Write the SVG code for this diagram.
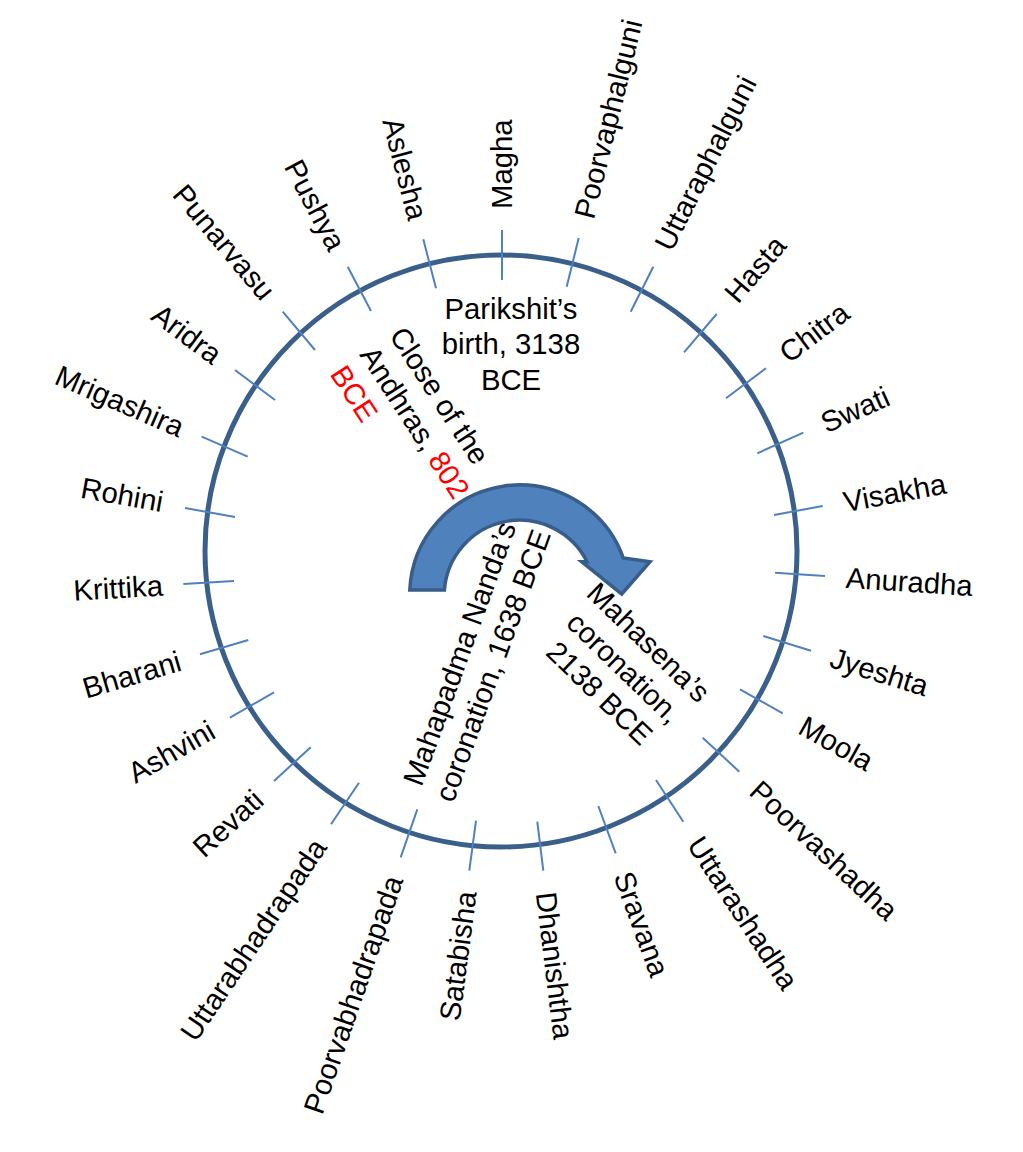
<svg xmlns="http://www.w3.org/2000/svg" width="1023" height="1152" viewBox="0 0 1023 1152">
<style>
.lbl{font-family:"Liberation Sans",Arial,sans-serif;font-size:29.3px;fill:#000}
.s{text-anchor:start}
.e{text-anchor:end}
.m{text-anchor:middle}
.tick{stroke:#4F81BD;stroke-width:2;fill:none}
.red{fill:#FF0000}
</style>
<rect width="1023" height="1152" fill="#fff"/>
<g id="ring"><circle cx="501" cy="551" r="296" fill="none" stroke="#3A5F8B" stroke-width="5"/></g>
<g id="ticks">
<line class="tick" x1="502" y1="230" x2="502" y2="280"/>
<line class="tick" x1="578.7" y1="238.1" x2="566.7" y2="286.7"/>
<line class="tick" x1="653.3" y1="266.7" x2="630.7" y2="311.7"/>
<line class="tick" x1="716.7" y1="314" x2="684" y2="352.3"/>
<line class="tick" x1="766" y1="368.3" x2="726" y2="398.3"/>
<line class="tick" x1="803.3" y1="432.7" x2="757.3" y2="453.3"/>
<line class="tick" x1="822.7" y1="506" x2="774" y2="515"/>
<line class="tick" x1="825" y1="576" x2="775" y2="572.7"/>
<line class="tick" x1="811" y1="650.7" x2="763.3" y2="636"/>
<line class="tick" x1="782.7" y1="713.3" x2="740" y2="689.3"/>
<line class="tick" x1="739.3" y1="771.7" x2="702.7" y2="737.7"/>
<line class="tick" x1="683.3" y1="821.7" x2="656" y2="780"/>
<line class="tick" x1="615.7" y1="853.3" x2="598.3" y2="806"/>
<line class="tick" x1="543.3" y1="870.7" x2="537.3" y2="821.7"/>
<line class="tick" x1="469.3" y1="870.7" x2="476" y2="820.7"/>
<line class="tick" x1="400.7" y1="857.3" x2="417.3" y2="809.3"/>
<line class="tick" x1="331" y1="824.3" x2="359" y2="782.7"/>
<line class="tick" x1="274" y1="781" x2="310.7" y2="747.3"/>
<line class="tick" x1="230" y1="717.7" x2="274" y2="692.3"/>
<line class="tick" x1="200" y1="654.3" x2="248.3" y2="640"/>
<line class="tick" x1="183.3" y1="584" x2="234" y2="581"/>
<line class="tick" x1="185" y1="508" x2="235" y2="517"/>
<line class="tick" x1="201.7" y1="436.7" x2="247.7" y2="456.7"/>
<line class="tick" x1="235" y1="370" x2="275" y2="400"/>
<line class="tick" x1="282.7" y1="311.7" x2="315" y2="350"/>
<line class="tick" x1="347.7" y1="266.7" x2="371" y2="311"/>
<line class="tick" x1="423.3" y1="239.3" x2="436" y2="288.3"/>
</g>
<g id="labels">
<g id="n-magha"><text class="lbl s" dy=".35em" transform="translate(502,209) rotate(-90)">Magha</text></g>
<g id="n-poorvaphalguni"><text class="lbl s" dy=".35em" transform="translate(583.7,217.7) rotate(-76.1)">Poorvaphalguni</text></g>
<g id="n-uttaraphalguni"><text class="lbl s" dy=".35em" transform="translate(662.7,248.1) rotate(-63.3)">Uttaraphalguni</text></g>
<g id="n-hasta"><text class="lbl s" dy=".35em" transform="translate(730.3,298.2) rotate(-49.5)">Hasta</text></g>
<g id="n-chitra"><text class="lbl s" dy=".35em" transform="translate(782.8,355.7) rotate(-36.9)">Chitra</text></g>
<g id="n-swati"><text class="lbl s" dy=".35em" transform="translate(822.3,424.2) rotate(-24.1)">Swati</text></g>
<g id="n-visakha"><text class="lbl s" dy=".35em" transform="translate(843.6,502.1) rotate(-10.5)">Visakha</text></g>
<g id="n-anuradha"><text class="lbl s" dy=".35em" transform="translate(845.9,577.4) rotate(3.8)">Anuradha</text></g>
<g id="n-jyeshta"><text class="lbl s" dy=".35em" transform="translate(831.2,657) rotate(17.1)">Jyeshta</text></g>
<g id="n-moola"><text class="lbl s" dy=".35em" transform="translate(801.5,723.8) rotate(29.3)">Moola</text></g>
<g id="n-poorvashadha"><text class="lbl s" dy=".35em" transform="translate(754.7,786) rotate(42.9)">Poorvashadha</text></g>
<g id="n-uttarashadha"><text class="lbl s" dy=".35em" transform="translate(694.9,839.4) rotate(56.8)">Uttarashadha</text></g>
<g id="n-sravana"><text class="lbl s" dy=".35em" transform="translate(622.9,872.8) rotate(69.8)">Sravana</text></g>
<g id="n-dhanishtha"><text class="lbl s" dy=".35em" transform="translate(545.9,891.9) rotate(83)">Dhanishtha</text></g>
<g id="n-satabisha"><text class="lbl e" dy=".35em" transform="translate(466.6,891.3) rotate(-82.4)">Satabisha</text></g>
<g id="n-poorvabhadrapada"><text class="lbl e" dy=".35em" transform="translate(394,876.8) rotate(-70.9)">Poorvabhadrapada</text></g>
<g id="n-uttarabhadrapada"><text class="lbl e" dy=".35em" transform="translate(319.3,841.7) rotate(-56)">Uttarabhadrapada</text></g>
<g id="n-revati"><text class="lbl e" dy=".35em" transform="translate(258.5,795.3) rotate(-42.6)">Revati</text></g>
<g id="n-ashvini"><text class="lbl e" dy=".35em" transform="translate(212.2,728) rotate(-30)">Ashvini</text></g>
<g id="n-bharani"><text class="lbl e" dy=".35em" transform="translate(180.1,660.3) rotate(-16.5)">Bharani</text></g>
<g id="n-krittika"><text class="lbl e" dy=".35em" transform="translate(162.8,585.2) rotate(-3.4)">Krittika</text></g>
<g id="n-rohini"><text class="lbl e" dy=".35em" transform="translate(163,502) rotate(10.2)">Rohini</text></g>
<g id="n-mrigashira"><text class="lbl e" dy=".35em" transform="translate(182.5,428.4) rotate(23.5)">Mrigashira</text></g>
<g id="n-aridra"><text class="lbl e" dy=".35em" transform="translate(218.2,357.4) rotate(36.9)">Aridra</text></g>
<g id="n-punarvasu"><text class="lbl e" dy=".35em" transform="translate(269.2,295.7) rotate(49.9)">Punarvasu</text></g>
<g id="n-pushya"><text class="lbl e" dy=".35em" transform="translate(338,248.2) rotate(62.3)">Pushya</text></g>
<g id="n-aslesha"><text class="lbl e" dy=".35em" transform="translate(418.2,219.3) rotate(75.5)">Aslesha</text></g>
</g>
<g id="event-parikshit">
<text class="lbl m" x="511" y="319.3">Parikshit’s</text>
<text class="lbl m" x="511" y="354.3">birth, 3138</text>
<text class="lbl m" x="511" y="390">BCE</text>
</g>
<g id="event-andhras" transform="translate(388.5,335.5) rotate(57)">
<text class="lbl" x="0" y="0">Close of the</text>
<text class="lbl" x="0" y="35.3">Andhras, <tspan class="red">802</tspan></text>
<text class="lbl red" x="0" y="70.6">BCE</text>
</g>
<g id="event-mahapadma" transform="translate(469,657) rotate(-70)">
<text class="lbl m" x="0" y="0">Mahapadma Nanda’s</text>
<text class="lbl m" x="0" y="35.3">coronation, 1638 BCE</text>
</g>
<g id="event-mahasena" transform="translate(617,675) rotate(44)">
<text class="lbl m" x="0" y="-35.3">Mahasena’s</text>
<text class="lbl m" x="0" y="0">coronation,</text>
<text class="lbl m" x="0" y="35.3">2138 BCE</text>
</g>
<g id="connectors">
<path d="M409.8,590 A110,110 0 0 1 623.3,558 L650,561.7 L621.7,594 L581.7,561.7 L587.1,561.7 A75.5,75.5 0 0 0 444.4,590 Z" fill="#4F81BD" stroke="#385D8A" stroke-width="3.5" stroke-linejoin="miter"/>
</g>
</svg>
